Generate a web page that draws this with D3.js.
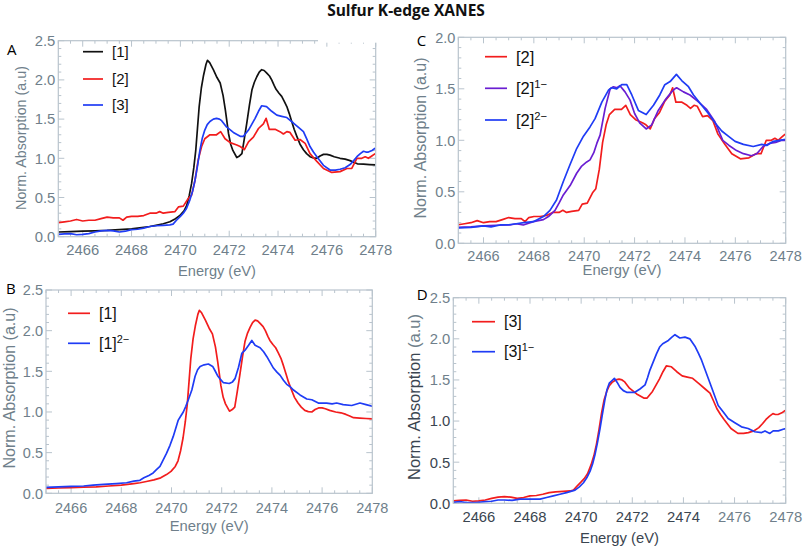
<!DOCTYPE html>
<html><head><meta charset="utf-8">
<script src="https://cdn.jsdelivr.net/npm/d3@7/dist/d3.min.js"></script>
<style>body{margin:0;background:#fff}svg{display:block}</style>
</head><body><svg id="c" width="803" height="550"></svg>
<script>
// ---------- data ----------
const title = "Sulfur K-edge XANES";
const xTicks = [2466, 2468, 2470, 2472, 2474, 2476, 2478];
const yTicks25 = [0, 0.5, 1.0, 1.5, 2.0, 2.5];
const yTicks20 = [0, 0.5, 1.0, 1.5, 2.0];
const xLabel = "Energy (eV)";
const yLabel = "Norm. Absorption (a.u)";

// compound [1]
const s1 = [[2465,0.06],[2465.5,0.065],[2466,0.07],[2466.5,0.075],[2467,0.08],[2467.5,0.09],[2468,0.10],[2468.5,0.12],[2468.75,0.13],[2469,0.145],[2469.3,0.165],[2469.57,0.19],[2469.8,0.23],[2469.98,0.27],[2470.15,0.33],[2470.26,0.40],[2470.36,0.52],[2470.46,0.68],[2470.55,0.88],[2470.63,1.1],[2470.7,1.38],[2470.77,1.66],[2470.86,1.90],[2470.95,2.06],[2471.05,2.2],[2471.11,2.25],[2471.2,2.22],[2471.35,2.13],[2471.5,2.03],[2471.63,1.96],[2471.75,1.8],[2471.84,1.62],[2471.97,1.32],[2472.06,1.18],[2472.15,1.1],[2472.31,1.01],[2472.42,1.03],[2472.52,1.06],[2472.62,1.25],[2472.72,1.45],[2472.83,1.68],[2472.93,1.87],[2473.03,1.97],[2473.13,2.04],[2473.23,2.1],[2473.33,2.13],[2473.43,2.12],[2473.53,2.09],[2473.65,2.05],[2473.74,2.0],[2473.84,1.93],[2473.92,1.88],[2474.04,1.83],[2474.15,1.79],[2474.25,1.73],[2474.36,1.66],[2474.46,1.57],[2474.56,1.47],[2474.66,1.37],[2474.77,1.28],[2474.9,1.18],[2475.04,1.11],[2475.17,1.06],[2475.31,1.02],[2475.45,1.005],[2475.59,1.0],[2475.72,1.03],[2475.86,1.05],[2476.0,1.05],[2476.13,1.04],[2476.3,1.02],[2476.54,1.0],[2476.75,0.99],[2476.95,0.97],[2477.1,0.95],[2477.25,0.93],[2477.5,0.925],[2477.75,0.92],[2478,0.915]];
// compound [2]
const s2 = [[2465,0.18],[2465.25,0.19],[2465.5,0.2],[2465.75,0.22],[2466,0.2],[2466.25,0.21],[2466.5,0.21],[2466.75,0.23],[2467,0.25],[2467.25,0.24],[2467.5,0.24],[2467.65,0.21],[2467.8,0.25],[2468,0.26],[2468.25,0.26],[2468.5,0.27],[2468.75,0.30],[2469,0.30],[2469.15,0.32],[2469.3,0.30],[2469.5,0.31],[2469.78,0.32],[2469.92,0.38],[2470.12,0.39],[2470.33,0.49],[2470.46,0.53],[2470.6,0.72],[2470.73,0.98],[2470.87,1.15],[2471.0,1.25],[2471.21,1.30],[2471.48,1.30],[2471.65,1.34],[2471.83,1.25],[2472.04,1.20],[2472.31,1.17],[2472.45,1.15],[2472.62,1.11],[2472.79,1.21],[2472.99,1.27],[2473.2,1.38],[2473.4,1.44],[2473.51,1.51],[2473.64,1.37],[2473.88,1.37],[2474.08,1.34],[2474.22,1.31],[2474.36,1.34],[2474.49,1.33],[2474.7,1.23],[2474.9,1.24],[2475.11,1.19],[2475.31,1.06],[2475.59,0.96],[2475.86,0.87],[2476.2,0.82],[2476.54,0.83],[2476.82,0.87],[2477.02,0.87],[2477.23,1.0],[2477.43,1.0],[2477.57,1.02],[2477.7,1.0],[2477.84,1.03],[2477.98,1.06]];
// compound [3]
const s3 = [[2465,0.03],[2465.25,0.035],[2465.5,0.04],[2465.75,0.025],[2466,0.03],[2466.25,0.04],[2466.5,0.06],[2466.75,0.075],[2467,0.08],[2467.25,0.075],[2467.5,0.06],[2467.75,0.07],[2468,0.09],[2468.25,0.095],[2468.5,0.11],[2468.75,0.13],[2469,0.14],[2469.3,0.145],[2469.57,0.15],[2469.7,0.16],[2469.84,0.21],[2470.0,0.26],[2470.12,0.30],[2470.25,0.36],[2470.39,0.47],[2470.5,0.58],[2470.6,0.72],[2470.7,0.9],[2470.8,1.1],[2470.9,1.26],[2471.0,1.36],[2471.1,1.43],[2471.21,1.47],[2471.35,1.5],[2471.48,1.51],[2471.6,1.5],[2471.69,1.48],[2471.89,1.40],[2472.17,1.33],[2472.45,1.28],[2472.58,1.28],[2472.79,1.36],[2473.06,1.51],[2473.2,1.6],[2473.33,1.67],[2473.53,1.66],[2473.74,1.60],[2473.95,1.55],[2474.15,1.535],[2474.36,1.52],[2474.63,1.45],[2474.85,1.39],[2475.04,1.34],[2475.17,1.25],[2475.31,1.15],[2475.45,1.08],[2475.59,1.02],[2475.86,0.91],[2476.13,0.85],[2476.35,0.85],[2476.54,0.86],[2476.75,0.88],[2476.95,0.92],[2477.1,0.97],[2477.23,1.02],[2477.37,1.06],[2477.5,1.09],[2477.6,1.08],[2477.7,1.08],[2477.85,1.1],[2477.98,1.13]];
// [2]1-
const s2m1 = [[2465,0.155],[2465.5,0.16],[2466,0.17],[2466.5,0.175],[2467.05,0.178],[2467.3,0.19],[2467.58,0.178],[2467.98,0.21],[2468.38,0.23],[2468.58,0.26],[2468.84,0.32],[2469.0,0.39],[2469.17,0.47],[2469.44,0.56],[2469.7,0.68],[2469.9,0.75],[2470.1,0.79],[2470.23,0.81],[2470.38,0.88],[2470.5,0.97],[2470.63,1.05],[2470.83,1.31],[2471.03,1.5],[2471.16,1.52],[2471.3,1.51],[2471.42,1.53],[2471.62,1.47],[2471.82,1.39],[2472.0,1.26],[2472.2,1.17],[2472.46,1.11],[2472.68,1.15],[2472.94,1.29],[2473.21,1.39],[2473.47,1.47],[2473.6,1.5],[2473.67,1.51],[2473.94,1.47],[2474.2,1.44],[2474.5,1.38],[2474.86,1.30],[2475.19,1.18],[2475.5,1.0],[2475.75,0.95],[2476.05,0.9],[2476.32,0.87],[2476.64,0.85],[2476.85,0.87],[2477.1,0.94],[2477.35,0.97],[2477.6,0.98],[2477.85,1.0],[2478,1.0]];
// [2]2-
const s2m2 = [[2465,0.15],[2465.5,0.155],[2466,0.17],[2466.3,0.16],[2466.66,0.178],[2467.0,0.18],[2467.3,0.19],[2467.6,0.2],[2467.98,0.21],[2468.38,0.26],[2468.64,0.32],[2468.9,0.42],[2469.17,0.6],[2469.43,0.76],[2469.7,0.92],[2469.97,1.04],[2470.23,1.13],[2470.43,1.21],[2470.7,1.37],[2470.97,1.49],[2471.09,1.51],[2471.29,1.50],[2471.49,1.54],[2471.69,1.54],[2471.89,1.44],[2472.15,1.29],[2472.46,1.25],[2472.75,1.34],[2473.0,1.44],[2473.2,1.54],[2473.41,1.57],[2473.66,1.64],[2473.87,1.58],[2474.14,1.52],[2474.34,1.44],[2474.6,1.36],[2474.93,1.26],[2475.19,1.17],[2475.46,1.09],[2475.72,1.04],[2475.99,0.99],[2476.32,0.96],[2476.71,0.94],[2477.05,0.96],[2477.25,0.95],[2477.51,0.99],[2477.75,1.0],[2478,1.01]];
// [1]2-
const s1m2 = [[2465,0.074],[2465.5,0.08],[2466,0.085],[2466.5,0.09],[2466.88,0.10],[2467.3,0.11],[2467.8,0.12],[2468.21,0.13],[2468.5,0.15],[2468.74,0.16],[2468.9,0.19],[2469.1,0.22],[2469.27,0.25],[2469.4,0.29],[2469.54,0.33],[2469.67,0.41],[2469.8,0.49],[2469.94,0.59],[2470.07,0.70],[2470.17,0.80],[2470.27,0.90],[2470.37,0.95],[2470.47,1.0],[2470.57,1.07],[2470.67,1.15],[2470.81,1.27],[2470.94,1.44],[2471.04,1.52],[2471.14,1.56],[2471.3,1.58],[2471.47,1.59],[2471.64,1.56],[2471.73,1.51],[2471.83,1.45],[2471.95,1.40],[2472.07,1.36],[2472.3,1.35],[2472.43,1.37],[2472.53,1.41],[2472.67,1.55],[2472.8,1.72],[2472.93,1.76],[2473.07,1.82],[2473.2,1.88],[2473.33,1.82],[2473.53,1.79],[2473.67,1.74],[2473.8,1.68],[2473.93,1.61],[2474.06,1.54],[2474.2,1.49],[2474.33,1.45],[2474.46,1.39],[2474.59,1.34],[2474.73,1.31],[2474.86,1.27],[2475.12,1.21],[2475.39,1.16],[2475.59,1.15],[2475.85,1.11],[2476.18,1.11],[2476.4,1.10],[2476.58,1.11],[2476.84,1.09],[2477.18,1.08],[2477.51,1.11],[2477.75,1.09],[2478,1.07]];
// [3]1-
const s3m1 = [[2465,0.012],[2465.25,0.02],[2465.5,0.01],[2465.9,0.01],[2466.25,0.02],[2466.5,0.025],[2466.75,0.04],[2467.0,0.04],[2467.3,0.035],[2467.61,0.05],[2468.0,0.05],[2468.39,0.05],[2468.65,0.07],[2468.91,0.09],[2469.17,0.11],[2469.43,0.13],[2469.76,0.16],[2469.93,0.20],[2470.09,0.25],[2470.22,0.31],[2470.35,0.39],[2470.45,0.48],[2470.54,0.59],[2470.64,0.74],[2470.74,0.91],[2470.83,1.08],[2470.93,1.26],[2471.01,1.38],[2471.1,1.46],[2471.2,1.49],[2471.3,1.52],[2471.41,1.47],[2471.52,1.41],[2471.65,1.37],[2471.78,1.35],[2472.1,1.35],[2472.3,1.39],[2472.5,1.44],[2472.6,1.53],[2472.69,1.62],[2472.82,1.72],[2472.95,1.82],[2473.07,1.9],[2473.19,1.94],[2473.41,1.98],[2473.55,2.02],[2473.67,2.05],[2473.86,2.01],[2474.06,2.02],[2474.25,2.0],[2474.45,1.91],[2474.58,1.83],[2474.71,1.74],[2474.84,1.63],[2474.97,1.52],[2475.16,1.36],[2475.36,1.19],[2475.56,1.11],[2475.75,1.03],[2476.01,0.98],[2476.27,0.93],[2476.53,0.91],[2476.79,0.87],[2477.06,0.86],[2477.19,0.88],[2477.38,0.85],[2477.51,0.88],[2477.71,0.88],[2477.9,0.90],[2478,0.91]];

// ---------- styles / layout ----------
const RED = "#f21d1d", BLUE = "#1f3cf5", BLACK = "#111111", PURPLE = "#6a1ed2";
const GRAY = "#6f7f8b", DARK = "#3a4550", FRAME = "#b9c4cd";

const panels = [
  { letter: "A", lx: 7, ly: 55, box: [58.3, 40.7, 375.7, 236.7], yTicks: yTicks25, ymax: 2.5,
    tickFs: 14.8, tickDy: 18.3, xlabDy: 39, xlabFs: 14.6, ylabX: 21, ylabY: 138, ylabFs: 14.3,
    legX: 83, legLen: 20, legRows: [51.7, 79, 105], legFs: 15,
    series: [ {d: s1, c: BLACK, t: "[1]"}, {d: s2, c: RED, t: "[2]"}, {d: s3, c: BLUE, t: "[3]"} ], gapTop: [318, 378] },
  { letter: "B", lx: 6, ly: 294.3, box: [46, 290, 372.3, 493.3], yTicks: yTicks25, ymax: 2.5,
    tickFs: 14.5, tickDy: 20, xlabDy: 37.2, xlabFs: 14.8, ylabX: 9, ylabY: 388, ylabFs: 16,
    legX: 68, legLen: 22, legRows: [313.3, 343.3], legFs: 16,
    series: [ {d: s1, c: RED, t: "[1]"}, {d: s1m2, c: BLUE, t: "[1]", sup: "2\u2212"} ] },
  { letter: "C", lx: 416.7, ly: 45.7, box: [458.3, 37.3, 785.7, 243.3], yTicks: yTicks20, ymax: 2.0,
    tickFs: 14.5, tickDy: 17.5, xlabDy: 32, xlabFs: 14.8, ylabX: 420, ylabY: 138, ylabFs: 16,
    legX: 485, legLen: 22, legRows: [56.7, 88.3, 120], legFs: 16.5,
    series: [ {d: s2, c: RED, t: "[2]"}, {d: s2m1, c: PURPLE, t: "[2]", sup: "1\u2212"}, {d: s2m2, c: BLUE, t: "[2]", sup: "2\u2212"} ] },
  { letter: "D", lx: 416.7, ly: 300, box: [453.3, 297.7, 785.7, 503.3], yTicks: yTicks25, ymax: 2.5,
    tickFs: 14.8, tickDy: 18.4, xlabDy: 39.5, xlabFs: 14.8, ylabX: 414, ylabY: 397, ylabFs: 16.5,
    legX: 472, legLen: 23, legRows: [321.7, 351.7], legFs: 16, dark: true,
    series: [ {d: s3, c: RED, t: "[3]"}, {d: s3m1, c: BLUE, t: "[3]", sup: "1\u2212"} ] }
];

const svg = d3.select("#c");
const FONT = "'Liberation Sans', Arial, sans-serif";

svg.append("text").attr("x", 406).attr("y", 16).attr("text-anchor", "middle")
  .attr("font-family", "'Open Sans', sans-serif").attr("font-weight", 700).attr("font-size", 15.5)
  .attr("fill", "#111").text(title);

panels.forEach((p, i) => {
  const [x0, y0, x1, y1] = p.box;
  const x = d3.scaleLinear().domain([2465, 2478]).range([x0, x1]);
  const y = d3.scaleLinear().domain([0, p.ymax]).range([y1, y0]);
  const g = svg.append("g");

  const cid = "clip" + i;
  svg.append("clipPath").attr("id", cid).append("rect")
    .attr("x", x0).attr("y", y0).attr("width", x1 - x0).attr("height", y1 - y0);

  // minor and major ticks on all four sides
  const tk = g.append("g").attr("stroke", FRAME).attr("stroke-width", 1);
  const xMinor = d3.range(2465, 2478.01, 0.5);
  const yMinor = d3.range(0, p.ymax + 0.001, 0.1);
  xMinor.forEach(v => {
    const major = Math.abs(v % 2) < 1e-6;
    const L = major ? 6 : 3;
    tk.append("line").attr("x1", x(v)).attr("x2", x(v)).attr("y1", y1).attr("y2", y1 - L);
    tk.append("line").attr("x1", x(v)).attr("x2", x(v)).attr("y1", y0).attr("y2", y0 + L);
  });
  yMinor.forEach(v => {
    const r = Math.round(v * 10) % 5;
    const L = r === 0 ? 6 : 3;
    tk.append("line").attr("y1", y(v)).attr("y2", y(v)).attr("x1", x0).attr("x2", x0 + L);
    tk.append("line").attr("y1", y(v)).attr("y2", y(v)).attr("x1", x1).attr("x2", x1 - L);
  });

  // curves
  const line = d3.line().x(d => x(d[0])).y(d => y(d[1]));
  const cg = g.append("g").attr("clip-path", `url(#${cid})`);
  p.series.forEach(s => {
    cg.append("path").attr("d", line(s.d)).attr("fill", "none")
      .attr("stroke", s.c).attr("stroke-width", 1.7).attr("stroke-linejoin", "round");
  });

  // frame
  g.append("rect").attr("x", x0).attr("y", y0).attr("width", x1 - x0).attr("height", y1 - y0)
    .attr("fill", "none").attr("stroke", FRAME).attr("stroke-width", 1.2);
  if (p.gapTop) {
    g.append("rect").attr("x", p.gapTop[0]).attr("y", y0 - 2).attr("width", p.gapTop[1] - p.gapTop[0]).attr("height", 4).attr("fill", "#fff");
  }

  // tick labels
  const xtCol = v => (p.dark && v <= 2474) ? DARK : GRAY;
  const ytCol = v => (p.dark && v <= 1.0) ? DARK : GRAY;
  g.append("g").selectAll("text").data(xTicks).join("text")
    .attr("x", d => x(d)).attr("y", y1 + p.tickDy).attr("text-anchor", "middle")
    .attr("font-family", FONT).attr("font-size", p.tickFs).attr("fill", xtCol).text(d => d);
  g.append("g").selectAll("text").data(p.yTicks).join("text")
    .attr("x", x0 - 3).attr("y", d => y(d)).attr("dy", "0.36em").attr("text-anchor", "end")
    .attr("font-family", FONT).attr("font-size", p.tickFs).attr("fill", ytCol).text(d => d.toFixed(1));

  // axis titles
  g.append("text").attr("x", (x0 + x1) / 2).attr("y", y1 + p.xlabDy).attr("text-anchor", "middle")
    .attr("font-family", FONT).attr("font-size", p.xlabFs).attr("fill", p.dark ? DARK : GRAY).text(xLabel);
  const yl = g.append("text").attr("transform", `translate(${p.ylabX},${p.ylabY}) rotate(-90)`)
    .attr("text-anchor", "middle").attr("dy", "0.36em")
    .attr("font-family", FONT).attr("font-size", p.ylabFs).attr("fill", p.dark ? DARK : GRAY);
  if (p.dark) {
    yl.append("tspan").text("Norm. Absorption ");
    yl.append("tspan").attr("fill", GRAY).text("(a.u)");
  } else yl.text(yLabel);

  // panel letter
  svg.append("text").attr("x", p.lx).attr("y", p.ly).attr("font-family", "'Open Sans', sans-serif")
    .attr("font-size", 15).attr("fill", "#000").text(p.letter);

  // legend
  p.series.forEach((s, k) => {
    const ry = p.legRows[k];
    g.append("line").attr("x1", p.legX).attr("x2", p.legX + p.legLen).attr("y1", ry).attr("y2", ry)
      .attr("stroke", s.c).attr("stroke-width", 1.7);
    const t = g.append("text").attr("x", p.legX + p.legLen + 9).attr("y", ry).attr("dy", "0.36em")
      .attr("font-family", FONT).attr("font-size", p.legFs).attr("fill", "#111");
    t.append("tspan").text(s.t);
    if (s.sup) t.append("tspan").attr("dy", "-0.55em").attr("font-size", p.legFs * 0.68).text(s.sup);
  });
});
</script>
</body></html>
